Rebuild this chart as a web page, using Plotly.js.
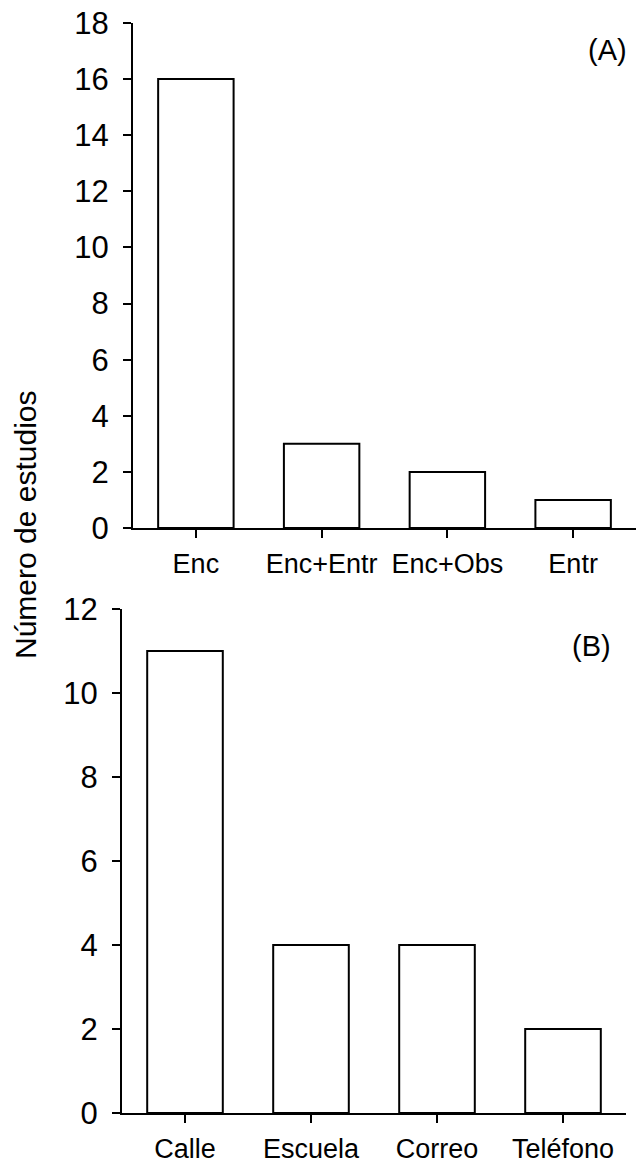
<!DOCTYPE html>
<html>
<head>
<meta charset="utf-8">
<script src="https://cdn.plot.ly/plotly-3.0.1.min.js"></script>
<style>html,body{margin:0;padding:0;background:#fff;}#chart{width:637px;height:1163px;}</style>
</head>
<body>
<div id="chart"></div>
<script>
const categoriesA = ["Enc", "Enc+Entr", "Enc+Obs", "Entr"];
const valuesA = [16, 3, 2, 1];
const categoriesB = ["Calle", "Escuela", "Correo", "Teléfono"];
const valuesB = [11, 4, 4, 2];
const yTicksA = [0, 2, 4, 6, 8, 10, 12, 14, 16, 18];
const yTicksB = [0, 2, 4, 6, 8, 10, 12];
const yTitle = "Número de estudios";
const panelLabels = ["(A)", "(B)"];

const FONT = "Liberation Sans, Arial, sans-serif";
const barStyle = {color: "#ffffff", line: {color: "#000000", width: 2}};

const traces = [
  {type: "bar", x: categoriesA, y: valuesA, xaxis: "x", yaxis: "y", width: 0.6, marker: barStyle, hoverinfo: "skip"},
  {type: "bar", x: categoriesB, y: valuesB, xaxis: "x2", yaxis: "y2", width: 0.6, marker: barStyle, hoverinfo: "skip"}
];

const W = 637, H = 1163;
function xd(a, b) { return [a / W, b / W]; }
function yd(bottom, top) { return [1 - bottom / H, 1 - top / H]; }

const xCommon = {
  type: "category", range: [-0.5, 3.5], showline: true, linecolor: "#000", linewidth: 2,
  ticks: "outside", ticklen: 8, tickwidth: 2, tickcolor: "#000", showgrid: false, zeroline: false,
  tickfont: {family: FONT, size: 27, color: "#000"}, ticklabelstandoff: 3, fixedrange: true
};
const yCommon = {
  showline: true, linecolor: "#000", linewidth: 2, ticks: "outside", ticklen: 8, tickwidth: 2,
  tickcolor: "#000", showgrid: false, zeroline: false,
  tickfont: {family: FONT, size: 31, color: "#000"}, ticklabelstandoff: 8, fixedrange: true
};

const layout = {
  width: W, height: H,
  margin: {l: 0, r: 0, t: 0, b: 0},
  paper_bgcolor: "#fff", plot_bgcolor: "rgba(0,0,0,0)",
  showlegend: false,
  xaxis: Object.assign({}, xCommon, {domain: xd(133, 636), anchor: "y"}),
  yaxis: Object.assign({}, yCommon, {domain: yd(528, 23), anchor: "x", range: [0, 18], tickvals: yTicksA}),
  xaxis2: Object.assign({}, xCommon, {domain: xd(122, 626), anchor: "y2"}),
  yaxis2: Object.assign({}, yCommon, {domain: yd(1113, 609), anchor: "x2", range: [0, 12], tickvals: yTicksB}),
  annotations: [
    {text: yTitle, xref: "paper", yref: "paper", x: 25 / W, y: 1 - 525 / H, textangle: -90,
     showarrow: false, xanchor: "center", yanchor: "middle", font: {family: FONT, size: 30, color: "#000"}},
    {text: panelLabels[0], xref: "paper", yref: "paper", x: 607 / W, y: 1 - 50 / H,
     showarrow: false, xanchor: "center", yanchor: "middle", font: {family: FONT, size: 29, color: "#000"}},
    {text: panelLabels[1], xref: "paper", yref: "paper", x: 591 / W, y: 1 - 646 / H,
     showarrow: false, xanchor: "center", yanchor: "middle", font: {family: FONT, size: 29, color: "#000"}}
  ]
};

Plotly.newPlot("chart", traces, layout, {displayModeBar: false, staticPlot: true});
</script>
</body>
</html>
